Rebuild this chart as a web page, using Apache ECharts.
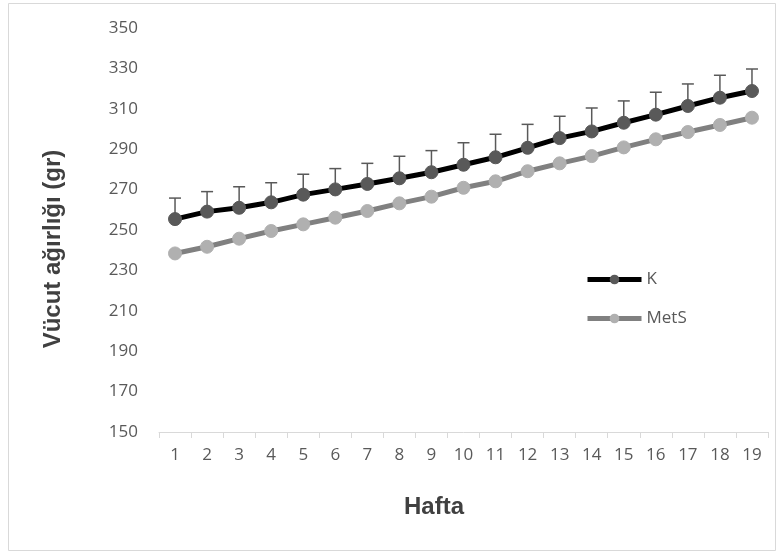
<!DOCTYPE html>
<html><head><meta charset="utf-8">
<script src="https://cdn.jsdelivr.net/npm/echarts@6/dist/echarts.min.js"></script>
<style>html,body{margin:0;padding:0;background:#fff}#c{width:783px;height:554px}</style>
</head><body><div id="c"></div>
<script>
const weeks = ['1','2','3','4','5','6','7','8','9','10','11','12','13','14','15','16','17','18','19'];
const kValues = [255.4,259.1,261.0,263.7,267.5,270.1,272.8,275.6,278.6,282.3,286.0,290.7,295.5,298.8,303.1,307.1,311.4,315.5,318.8];
const kErrors = [10.4,9.9,10.4,9.7,10.1,10.3,10.2,10.9,10.7,10.9,11.4,11.6,10.8,11.6,10.8,11.1,10.9,11.1,10.9];
const metsValues = [238.4,241.7,245.7,249.5,252.8,256.1,259.4,263.2,266.5,270.9,274.1,279.1,283.0,286.6,290.9,294.9,298.5,302.0,305.6];
const yTicks = {min:150, max:350, interval:20};

const chart = echarts.init(document.getElementById('c'));
const errData = weeks.map((w,i)=>[i, kValues[i], kValues[i]+kErrors[i]]);
chart.setOption({
  animation:false,
  backgroundColor:'#fff',
  grid:{left:159, right:15, top:28, bottom:122},
  legend:{
    orient:'vertical', left:580, top:266, itemGap:22, itemWidth:54, itemHeight:12,
    lineStyle:{width:5},
    textStyle:{color:'#595959', fontSize:17, fontFamily:'Open Sans'},
    data:['K','MetS']
  },
  xAxis:{
    type:'category', data:weeks, boundaryGap:true,
    axisLine:{lineStyle:{color:'#d9d9d9', width:1}},
    axisTick:{show:true, length:6, lineStyle:{color:'#d9d9d9'}},
    axisLabel:{color:'#595959', fontSize:17, fontFamily:'Open Sans', margin:15}
  },
  yAxis:{
    type:'value', min:yTicks.min, max:yTicks.max, interval:yTicks.interval,
    axisLine:{show:false}, axisTick:{show:false}, splitLine:{show:false},
    axisLabel:{color:'#595959', fontSize:17, fontFamily:'Open Sans', margin:21}
  },
  graphic:[
    {type:'rect', shape:{x:8.5,y:3.5,width:767,height:547}, style:{fill:'none', stroke:'#d9d9d9', lineWidth:1}, z:-1},
    {type:'text', x:434, y:507, style:{text:'Hafta', align:'center', verticalAlign:'middle', font:'bold 24px "Liberation Sans", Arial', fill:'#404040'}},
    {type:'text', rotation:Math.PI/2, x:53, y:249, style:{text:'Vücut ağırlığı (gr)', align:'center', verticalAlign:'middle', font:'bold 24px "Liberation Sans", Arial', fill:'#404040'}}
  ],
  series:[
    {
      type:'custom', name:'err', z:1, silent:true,
      renderItem:function(params, api){
        const p0 = api.coord([api.value(0), api.value(1)]);
        const p1 = api.coord([api.value(0), api.value(2)]);
        return {type:'group', children:[
          {type:'line', shape:{x1:p0[0],y1:p0[1],x2:p1[0],y2:p1[1]}, style:{stroke:'#595959', lineWidth:1.5}},
          {type:'line', shape:{x1:p1[0]-6,y1:p1[1],x2:p1[0]+6,y2:p1[1]}, style:{stroke:'#595959', lineWidth:1.5}}
        ]};
      },
      encode:{x:0, y:[1,2]},
      data:errData
    },
    {
      type:'line', name:'K', data:kValues, z:3,
      symbol:'circle', symbolSize:13,
      lineStyle:{color:'#000', width:5},
      itemStyle:{color:'#595959', borderColor:'#595959'}
    },
    {
      type:'line', name:'MetS', data:metsValues, z:2,
      symbol:'circle', symbolSize:13,
      lineStyle:{color:'#808080', width:5},
      itemStyle:{color:'#b0b0b0', borderColor:'#b0b0b0'}
    }
  ]
});
</script></body></html>
